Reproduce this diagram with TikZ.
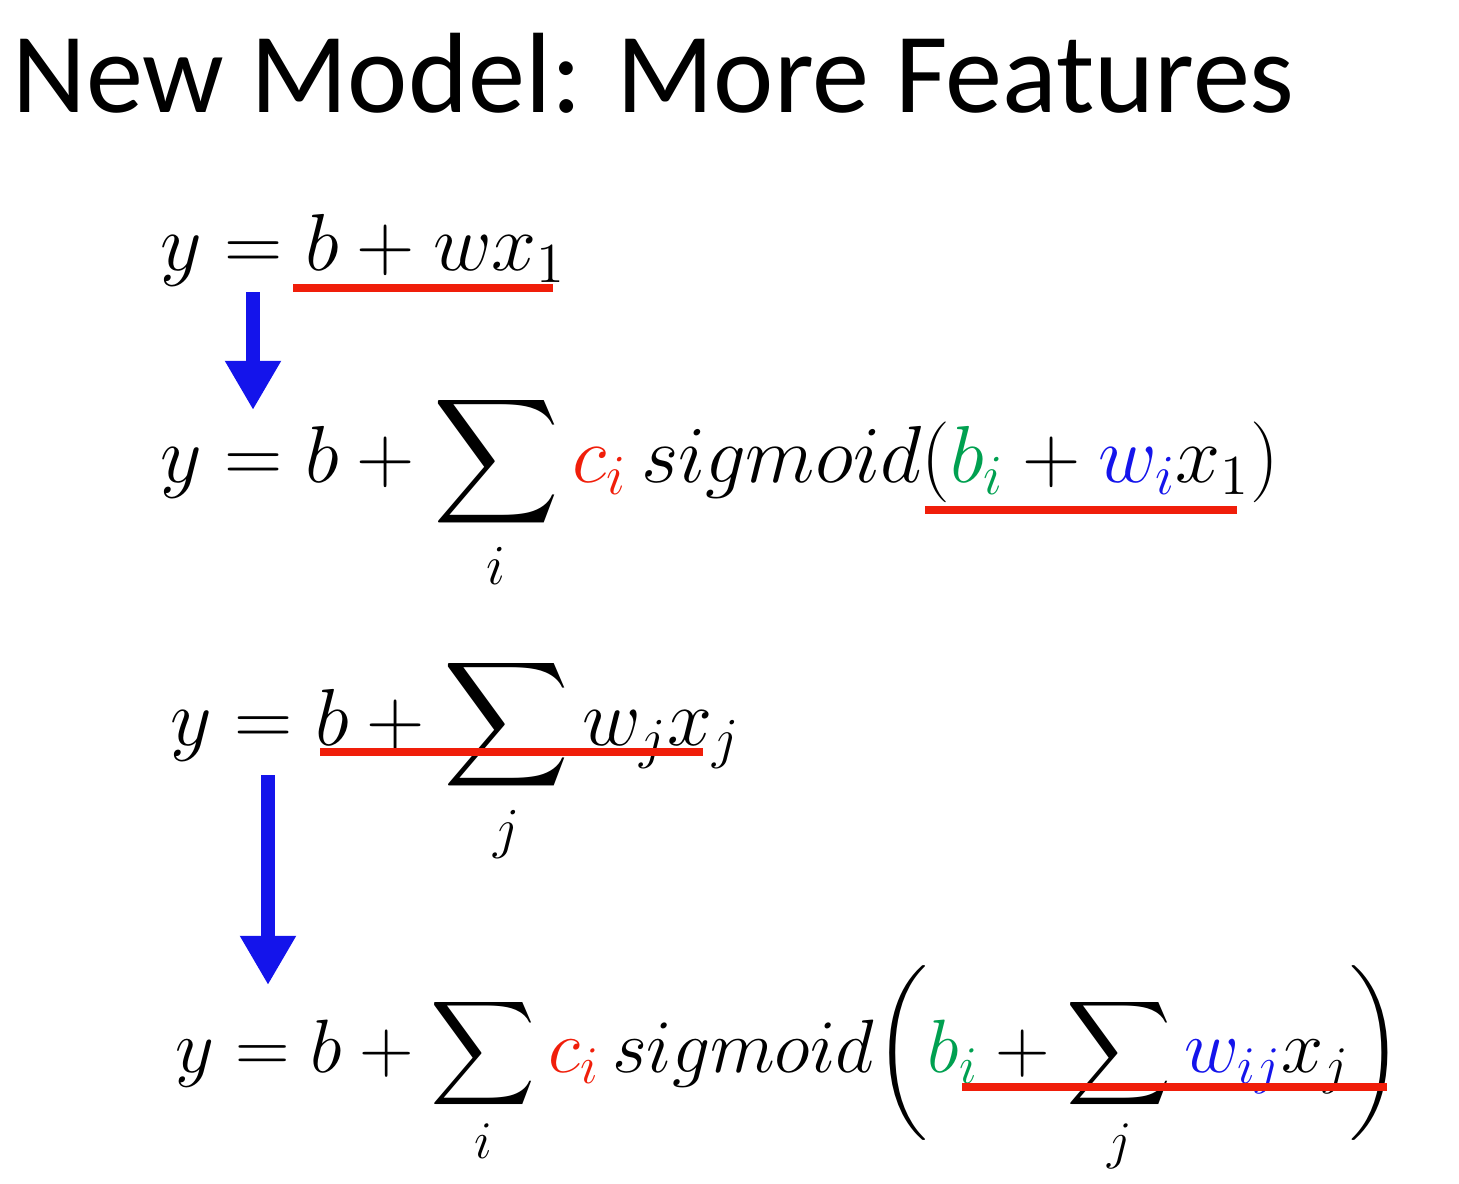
\documentclass[tikz,border=0pt]{standalone}
\usepackage{fix-cm}
\usepackage{fontspec}
\setsansfont{Carlito}
\usepackage{amsmath}
\usetikzlibrary{arrows.meta}
\definecolor{myred}{RGB}{240,30,10}
\definecolor{mygreen}{RGB}{0,160,80}
\definecolor{myblue}{RGB}{20,20,235}
\begin{document}
\begin{tikzpicture}
	[
		eq/.style={anchor=base west, inner sep=0pt, font=\fontsize{23}{28}\selectfont},
		underline/.style={myred, line width=2.4pt},
		down/.style={myblue, line width=4.2pt, -{Triangle[length=14pt, width=15pt]}},
	]
	\useasboundingbox (0,0) rectangle (14.59,-11.83);
	\node (title) [anchor=base west, inner sep=0pt, font=\sffamily\fontsize{32.5}{40}\selectfont] at (0.12,-1.12) {New Model: More Features};

	\node (eqa) [eq] at (1.6,-2.70) {$y = b + wx_1$};
	\node (eqb) [eq] at (1.6,-4.82) {$\displaystyle y = b + \sum_i \textcolor{myred}{c_i}\, sigmoid(\textcolor{mygreen}{b_i} + \textcolor{myblue}{w_i}x_1)$};
	\node (eqc) [eq] at (1.7,-7.45) {$\displaystyle y = b + \sum_j w_jx_j$};
	\node (eqd) [eq, font=\fontsize{21.5}{26}\selectfont] at (1.75,-10.72) {$\displaystyle y = b + \sum_i \textcolor{myred}{c_i}\, sigmoid\biggl(\textcolor{mygreen}{b_i} + \sum_j \textcolor{myblue}{w_{ij}}x_j\biggr)$};

	% underlines
	\coordinate (ua1) at (2.93,-2.88); \coordinate (ua2) at (5.53,-2.88);
	\coordinate (ub1) at (9.25,-5.10); \coordinate (ub2) at (12.37,-5.10);
	\coordinate (uc1) at (3.20,-7.52); \coordinate (uc2) at (7.03,-7.52);
	\coordinate (ud1) at (9.62,-10.87); \coordinate (ud2) at (13.87,-10.87);
	\draw [underline] (ua1) -- (ua2);
	\draw [underline] (ub1) -- (ub2);
	\draw [underline] (uc1) -- (uc2);
	\draw [underline] (ud1) -- (ud2);

	% arrows
	\coordinate (aa1) at (2.53,-2.92); \coordinate (aa2) at (2.53,-4.10);
	\coordinate (ab1) at (2.68,-7.75); \coordinate (ab2) at (2.68,-9.85);
	\draw [down] (aa1) -- (aa2);
	\draw [down] (ab1) -- (ab2);
\end{tikzpicture}
\end{document}
